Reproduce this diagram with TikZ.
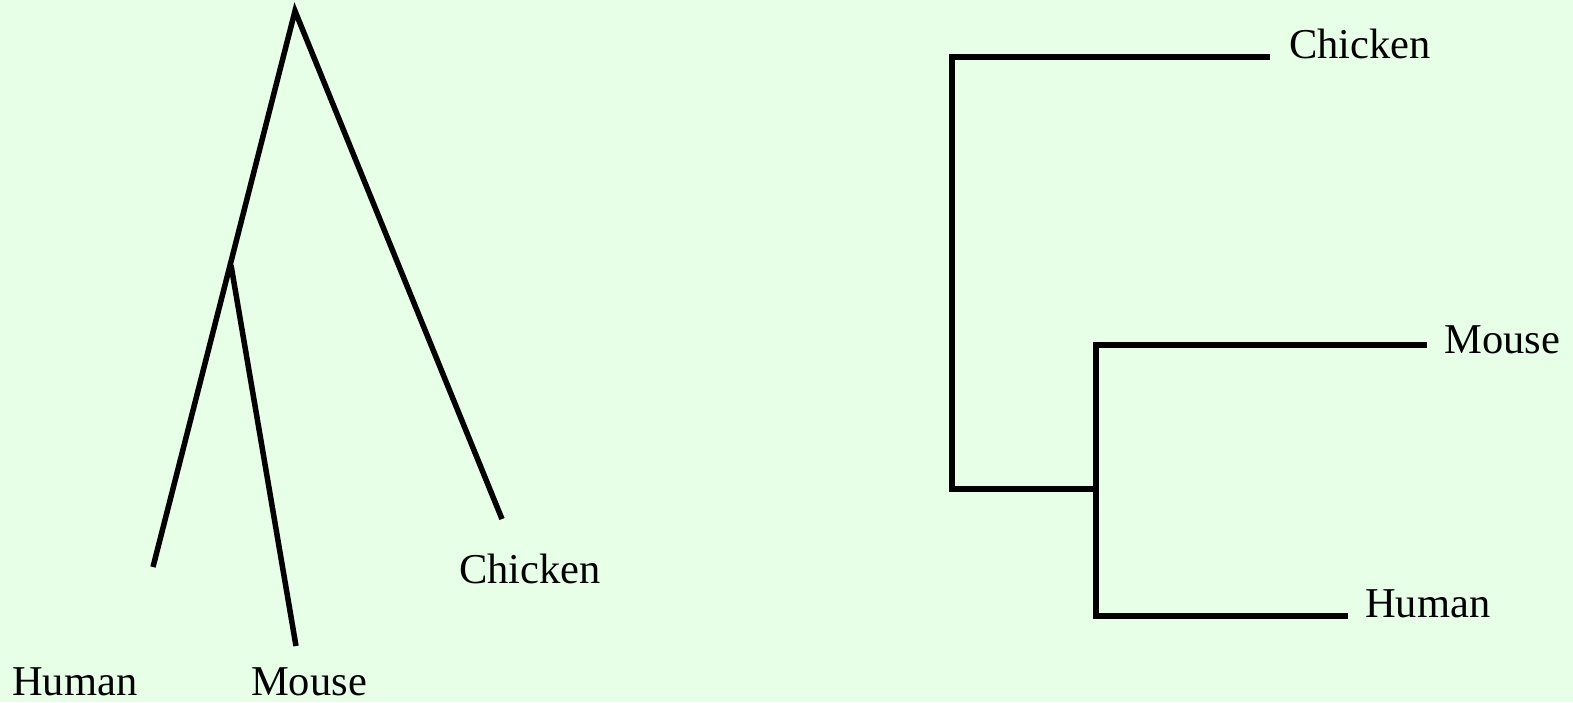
\documentclass[tikz,border=0pt]{standalone}
\usepackage{fontspec}
\setmainfont{Liberation Serif}
\definecolor{bg}{HTML}{E6FFE6}
\begin{document}
\begin{tikzpicture}[x=1pt,y=-1pt,
  branch/.style={line width=5.5pt,black},
  taxon/.style={inner sep=0pt,anchor=base west,font=\fontsize{42.5}{50}\selectfont}]
\fill[bg] (0,0) rectangle (1573,702);
\useasboundingbox (0,0) rectangle (1573,702);
% left tree
\coordinate (apex) at (295,11);
\coordinate (hm) at (231,265);
\coordinate (hend) at (153,567);
\coordinate (mend) at (296,646);
\coordinate (cend) at (502,519);
\draw[branch,line join=miter] (hend) -- (apex) -- (cend);
\draw[branch] (hm) -- (mend);
\node[taxon] (lh) at (12,695) {Human};
\node[taxon] (lm) at (251,695) {Mouse};
\node[taxon] (lc) at (459,583) {Chicken};
% right tree
\coordinate (rtop) at (952,57);
\coordinate (rc) at (1270,57);
\coordinate (rroot) at (952,489);
\coordinate (rj) at (1096,489);
\coordinate (rmt) at (1096,345);
\coordinate (rme) at (1427,345);
\coordinate (rhb) at (1096,616);
\coordinate (rhe) at (1348,616);
\draw[branch,line join=miter] (rc) -- (rtop) -- (rroot) -- (rj);
\draw[branch,line join=miter] (rme) -- (rmt) -- (rhb) -- (rhe);
\node[taxon] (rcl) at (1289,58) {Chicken};
\node[taxon] (rml) at (1444,353) {Mouse};
\node[taxon] (rhl) at (1365,617) {Human};
\end{tikzpicture}
\end{document}
